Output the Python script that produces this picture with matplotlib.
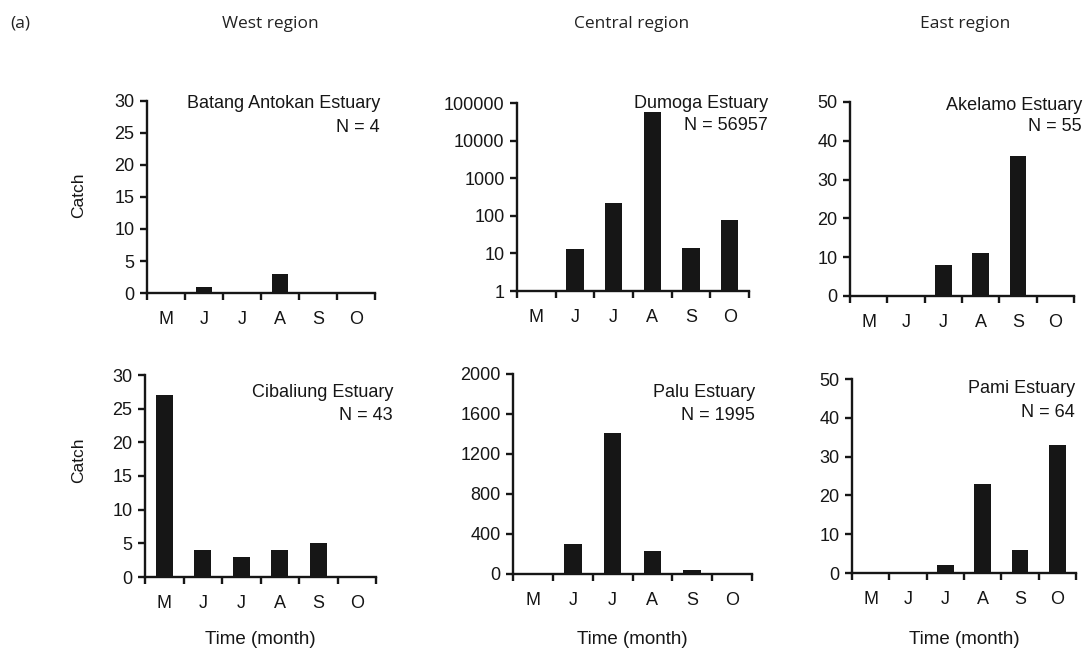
import matplotlib
matplotlib.use('Agg')
import matplotlib.pyplot as plt
from matplotlib.ticker import FixedLocator, NullLocator

plt.rcParams['font.family'] = ['Liberation Sans', 'DejaVu Sans']

months = ['M', 'J', 'J', 'A', 'S', 'O']
regions = ['West region', 'Central region', 'East region']

batang = [0, 1, 0, 3, 0, 0]
dumoga = [0, 13, 220, 56635, 14, 75]
akelamo = [0, 0, 8, 11, 36, 0]
cibaliung = [27, 4, 3, 4, 5, 0]
palu = [0, 300, 1410, 230, 40, 15]
pami = [0, 0, 2, 23, 6, 33]

names = ['Batang Antokan Estuary', 'Dumoga Estuary', 'Akelamo Estuary',
         'Cibaliung Estuary', 'Palu Estuary', 'Pami Estuary']
n_labels = ['N = 4', 'N = 56957', 'N = 55', 'N = 43', 'N = 1995', 'N = 64']
yticks = [[0, 5, 10, 15, 20, 25, 30],
          [1, 10, 100, 1000, 10000, 100000],
          [0, 10, 20, 30, 40, 50],
          [0, 5, 10, 15, 20, 25, 30],
          [0, 400, 800, 1200, 1600, 2000],
          [0, 10, 20, 30, 40, 50]]
series = [batang, dumoga, akelamo, cibaliung, palu, pami]

W, H = 1086, 652
fig = plt.figure(figsize=(W / 100, H / 100), dpi=100)

# axes boxes in pixels: left, top, right, bottom
boxes = [(147, 101, 375, 293), (517, 103, 749, 291), (850, 102, 1074, 296),
         (145, 375, 376, 577), (513, 374, 752, 574), (852, 379, 1076, 573)]
# label placement in pixels: right edge, baseline of name, baseline of N
label_pos = [(380, 108, 132), (768, 108, 130), (1082, 110, 131),
             (393, 397, 420), (755, 397, 420), (1075, 393, 417)]

ink = '#161616'


def px(x, y):
    return x / W, 1 - y / H


fs = 13
for i, (l, t, r, b) in enumerate(boxes):
    ax = fig.add_axes([l / W, 1 - b / H, (r - l) / W, (b - t) / H])
    vals = series[i]
    xs = [k + 0.5 for k in range(len(months))]
    if i == 1:
        ax.set_yscale('log')
        ax.bar(xs, vals, width=0.44, bottom=0, color=ink)
        ax.set_ylim(1, 100000)
        ax.yaxis.set_major_locator(FixedLocator(yticks[i]))
        ax.set_yticklabels([str(v) for v in yticks[i]])
        ax.yaxis.set_minor_locator(NullLocator())
    else:
        ax.bar(xs, vals, width=0.44, color=ink)
        ax.set_ylim(0, yticks[i][-1])
        ax.set_yticks(yticks[i])
    ax.set_xlim(0, 6)
    ax.set_xticks(range(7))
    ax.set_xticklabels([])
    ax.set_xticks(xs, minor=True)
    ax.set_xticklabels(months, minor=True)
    ax.tick_params(axis='x', which='minor', length=0, pad=13, labelsize=fs,
                   labelcolor=ink)
    ax.tick_params(axis='x', which='major', length=5, width=1.7, direction='out',
                   color=ink)
    ax.tick_params(axis='y', which='major', length=5, width=1.7, direction='out',
                   labelsize=fs, pad=4, color=ink, labelcolor=ink)
    for s in ['top', 'right']:
        ax.spines[s].set_visible(False)
    for s in ['left', 'bottom']:
        ax.spines[s].set_linewidth(1.7)
        ax.spines[s].set_color(ink)

    rx, b1, b2 = label_pos[i]
    fig.text(*px(rx, b1), names[i], ha='right', va='baseline', fontsize=fs,
             color=ink)
    fig.text(*px(rx, b2), n_labels[i], ha='right', va='baseline', fontsize=fs,
             color=ink)

for yc in [195, 460]:
    fig.text(*px(79, yc), 'Catch', rotation=90, ha='center', va='center',
             fontsize=12.5, color=ink)
for xc in [260, 632, 964]:
    fig.text(*px(xc, 640), 'Time (month)', ha='center', va='center',
             fontsize=13.5, color=ink)

fig.text(*px(10, 23), '(a)', fontsize=12.5, va='center', family='Open Sans',
         color='#222222')
for xc, name in zip([270, 632, 965], regions):
    fig.text(*px(xc, 24), name, fontsize=12.5, ha='center', va='center',
             family='Open Sans', color='#222222')

fig.savefig('out.png', dpi=100)
